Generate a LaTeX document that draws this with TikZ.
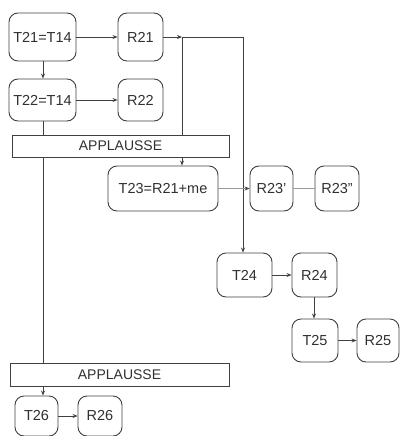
\documentclass[tikz,border=0pt]{standalone}
\usepackage{fontspec}
\setmainfont{Liberation Sans}
\usetikzlibrary{arrows.meta,calc}
\definecolor{ln}{HTML}{404040}
\definecolor{txt}{HTML}{303030}
\definecolor{gl}{HTML}{9A9A9A}
\begin{document}
\begin{tikzpicture}[x=1pt,y=-1pt,
  rbox/.style={draw=ln,line width=0.9pt,rounded corners=9pt,inner sep=0pt,
     text=txt,font=\fontsize{14.5}{16}\selectfont,minimum height=#1},
  rbox/.default=46pt,
  abox/.style={draw=ln,line width=0.9pt,inner sep=0pt,text=txt,
     font=\fontsize{14}{16}\selectfont,minimum height=22pt},
  conn/.style={draw=ln,line width=0.8pt},
  arr/.style={conn,-{Stealth[length=5pt,width=4pt]}},
  garr/.style={draw=gl,line width=1.3pt,-{Stealth[length=5pt,width=4pt,color=ln]}},
  gline/.style={draw=gl,line width=1.3pt}]
\useasboundingbox (0,0) rectangle (400,436);
\node[rbox=48pt,minimum width=67pt] (t21) at (42.5,37) {T21=T14};
\node[rbox=48pt,minimum width=45pt] (r21) at (140.5,37) {R21};
\node[rbox=42pt,minimum width=67pt] (t22) at (42.5,100) {T22=T14};
\node[rbox=42pt,minimum width=45pt] (r22) at (140.5,100) {R22};
\node[abox,minimum width=217pt] (a1) at (120.5,146) {APPLAUSSE};
\node[rbox=45pt,minimum width=110pt] (t23) at (163,188.5) {T23=R21+me};
\node[rbox=45pt,minimum width=43pt] (r23a) at (271.5,188.5) {R23'};
\node[rbox=45pt,minimum width=44pt] (r23b) at (337,188.5) {R23''};
\node[rbox=44pt,minimum width=55pt] (t24) at (244.5,275) {T24};
\node[rbox=44pt,minimum width=45pt] (r24) at (314.5,275) {R24};
\node[rbox=43pt,minimum width=46pt] (t25) at (315,340.5) {T25};
\node[rbox=43pt,minimum width=42pt] (r25) at (378,340.5) {R25};
\node[abox,minimum width=219pt,minimum height=23pt] (a2) at (119.5,374.5) {APPLAUSSE};
\node[rbox=40pt,minimum width=43pt] (t26) at (36.5,416) {T26};
\node[rbox=40pt,minimum width=44pt] (r26) at (100,416) {R26};
\coordinate (j1) at (182,37);
\coordinate (j2) at (243,37);
% connectors
\draw[arr] (t21) -- (r21);
\draw[arr] (t21.south -| 43,0) -- (t22.north -| 43,0);
\draw[arr] (t22) -- (r22);
\draw[arr] (r21.east) -- (j1);
\draw[conn] (j1) -- (j2);
\draw[arr] (j2) -- (j2 |- t24.north);
\draw[conn] (j1) -- (j1 |- a1.north);
\draw[arr] (j1 |- a1.south) -- (j1 |- t23.north);
\draw[conn] (t22.south -| 43,0) -- (a1.north -| 43,0);
\draw[conn] (a1.south -| 43,0) -- (a2.north -| 43,0);
\draw[arr] (a2.south -| 43,0) -- (t26.north -| 43,0);
\draw[garr] (t23) -- (r23a);
\draw[gline] (r23a) -- (r23b);
\draw[arr] (t24) -- (r24);
\draw[arr] (r24.south -| 314,0) -- (t25.north -| 314,0);
\draw[arr] (t25) -- (r25);
\draw[arr] (t26) -- (r26);
\end{tikzpicture}
\end{document}
